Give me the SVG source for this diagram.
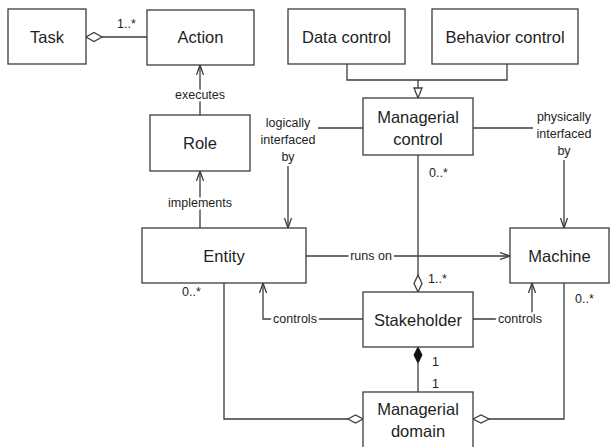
<svg xmlns="http://www.w3.org/2000/svg" width="614" height="447" viewBox="0 0 614 447">
  <style>
    .box { fill: #ffffff; stroke: #3c3c3c; stroke-width: 1.3; }
    .name { font-family: "Liberation Sans", Arial, sans-serif; font-size: 16.5px; fill: #1e1e1e; text-anchor: middle; }
    .line { fill: none; stroke: #3c3c3c; stroke-width: 1.3; }
    .lbl { font-family: "Liberation Sans", Arial, sans-serif; font-size: 12.5px; fill: #1e1e1e; }
    .mid { text-anchor: middle; }
    .halo { stroke: #ffffff; stroke-width: 5px; paint-order: stroke; stroke-linejoin: round; }
    .hollow { fill: #ffffff; stroke: #3c3c3c; stroke-width: 1.3; }
    .solid { fill: #111111; stroke: #111111; stroke-width: 1; }
  </style>
  <defs>
    <marker id="open" viewBox="0 0 10 10" refX="10" refY="5" markerWidth="10" markerHeight="10" markerUnits="userSpaceOnUse" orient="auto">
      <path d="M0,1.5 L10,5 L0,8.5" fill="none" stroke="#3c3c3c" stroke-width="1.3"/>
    </marker>
  </defs>
  <rect width="614" height="447" fill="#ffffff"/>

  <!-- connectors -->
  <g id="connectors">
    <!-- Task aggregates Action -->
    <line class="line" x1="102" y1="37" x2="147" y2="37"/>
    <polygon class="hollow" points="86,37 94,32.5 102,37 94,41.5"/>
    <text class="lbl" x="117" y="28">1..*</text>

    <!-- Role executes Action -->
    <line class="line" x1="200" y1="115" x2="200" y2="65" marker-end="url(#open)"/>
    <text class="lbl mid halo" x="200" y="99">executes</text>

    <!-- Entity implements Role -->
    <line class="line" x1="200" y1="228" x2="200" y2="171" marker-end="url(#open)"/>
    <text class="lbl mid halo" x="200" y="207">implements</text>

    <!-- Data/Behavior control generalize Managerial control -->
    <polyline class="line" points="347,64 347,80 507,80 507,64"/>
    <line class="line" x1="418" y1="80" x2="418" y2="88"/>
    <polygon class="hollow" points="414,88 422,88 418,98"/>

    <!-- logically interfaced by -->
    <line class="line" x1="363" y1="128" x2="318" y2="128"/>
    <line class="line" x1="288" y1="166" x2="288" y2="228" marker-end="url(#open)"/>
    <text class="lbl mid" x="288" y="127">logically</text>
    <text class="lbl mid" x="288" y="144">interfaced</text>
    <text class="lbl mid" x="288" y="161">by</text>

    <!-- physically interfaced by -->
    <line class="line" x1="473" y1="128" x2="533" y2="128"/>
    <line class="line" x1="564" y1="160" x2="564" y2="228" marker-end="url(#open)"/>
    <text class="lbl mid" x="564" y="121">physically</text>
    <text class="lbl mid" x="564" y="138">interfaced</text>
    <text class="lbl mid" x="564" y="155">by</text>

    <!-- Managerial control to Stakeholder -->
    <line class="line" x1="418" y1="155" x2="418" y2="275"/>
    <polygon class="hollow" points="418,275 422,283.5 418,292 414,283.5"/>
    <text class="lbl" x="429" y="177">0..*</text>
    <text class="lbl" x="428" y="283">1..*</text>

    <!-- Entity runs on Machine -->
    <line class="line" x1="306" y1="256" x2="510" y2="256" marker-end="url(#open)"/>
    <text class="lbl mid halo" x="371" y="260">runs on</text>

    <!-- Stakeholder controls Entity / Machine -->
    <polyline class="line" points="363,319 263,319 263,283" marker-end="url(#open)"/>
    <text class="lbl mid halo" x="295" y="323">controls</text>
    <polyline class="line" points="473,319 532,319 532,283" marker-end="url(#open)"/>
    <text class="lbl mid halo" x="520" y="323">controls</text>

    <!-- Stakeholder composes Managerial domain -->
    <line class="line" x1="418" y1="363" x2="418" y2="392"/>
    <polygon class="solid" points="418,347 422,355 418,363 414,355"/>
    <text class="lbl" x="432" y="366">1</text>
    <text class="lbl" x="432" y="388">1</text>

    <!-- Managerial domain aggregates Entity and Machine -->
    <polyline class="line" points="224,283 224,419 348,419"/>
    <polygon class="hollow" points="348,419 355.5,415 363,419 355.5,423"/>
    <polyline class="line" points="564,283 564,419 489,419"/>
    <polygon class="hollow" points="473,419 481,415 489,419 481,423"/>
    <text class="lbl" x="182" y="296">0..*</text>
    <text class="lbl" x="575" y="303">0..*</text>
  </g>

  <!-- nodes -->
  <g id="task">
    <rect class="box" x="8" y="9" width="78" height="55"/>
    <text class="name" x="47" y="43">Task</text>
  </g>
  <g id="action">
    <rect class="box" x="147" y="10" width="107" height="55"/>
    <text class="name" x="200.5" y="43">Action</text>
  </g>
  <g id="data-control">
    <rect class="box" x="288" y="9" width="117" height="55"/>
    <text class="name" x="346.5" y="43">Data control</text>
  </g>
  <g id="behavior-control">
    <rect class="box" x="432" y="9" width="146" height="55"/>
    <text class="name" x="505" y="43">Behavior control</text>
  </g>
  <g id="role">
    <rect class="box" x="150" y="115" width="100" height="56"/>
    <text class="name" x="200" y="149">Role</text>
  </g>
  <g id="managerial-control">
    <rect class="box" x="363" y="98" width="110" height="57"/>
    <text class="name" x="418" y="123">Managerial</text>
    <text class="name" x="418" y="145">control</text>
  </g>
  <g id="entity">
    <rect class="box" x="142" y="228" width="164" height="55"/>
    <text class="name" x="224" y="261.5">Entity</text>
  </g>
  <g id="machine">
    <rect class="box" x="510" y="228" width="99" height="55"/>
    <text class="name" x="559.5" y="261.5">Machine</text>
  </g>
  <g id="stakeholder">
    <rect class="box" x="363" y="292" width="110" height="55"/>
    <text class="name" x="418" y="325.5">Stakeholder</text>
  </g>
  <g id="managerial-domain">
    <rect class="box" x="363" y="392" width="110" height="62"/>
    <text class="name" x="418" y="415">Managerial</text>
    <text class="name" x="418" y="437">domain</text>
  </g>
</svg>
